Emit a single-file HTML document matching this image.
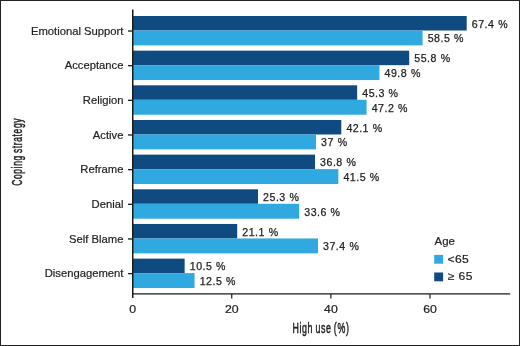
<!DOCTYPE html><html><head><meta charset="utf-8"><style>html,body{margin:0;padding:0;background:#fff}svg{display:block;will-change:transform}text{font-family:"Liberation Sans",sans-serif;fill:#222}.v{font-size:10.6px;letter-spacing:0.5px;word-spacing:0.3px;stroke:#222;stroke-width:0.25px}.c{font-size:11.8px;stroke:#222;stroke-width:0.2px}.t{font-size:15px;stroke:#222;stroke-width:0.5px;letter-spacing:1.1px;word-spacing:-1.5px}</style></head><body>
<svg width="520" height="346" viewBox="0 0 520 346">
<rect x="0" y="0" width="520" height="346" fill="#fff"/>
<rect x="132.60" y="16.00" width="334.10" height="14.50" fill="#0f4a81"/>
<rect x="132.60" y="30.50" width="289.98" height="14.90" fill="#30a8e0"/>
<text class="v" x="471.80" y="27.75">67.4 %</text>
<text class="v" x="427.68" y="42.30">58.5 %</text>
<text class="c" transform="translate(123.5,34.60) scale(0.955,1)" text-anchor="end">Emotional Support</text>
<line x1="128.0" y1="31.00" x2="132.6" y2="31.00" stroke="#1a1a1a" stroke-width="1.3"/>
<rect x="132.60" y="50.66" width="276.60" height="14.50" fill="#0f4a81"/>
<rect x="132.60" y="65.16" width="246.86" height="14.90" fill="#30a8e0"/>
<text class="v" x="414.30" y="62.41">55.8 %</text>
<text class="v" x="384.56" y="76.96">49.8 %</text>
<text class="c" transform="translate(123.5,69.26) scale(0.955,1)" text-anchor="end">Acceptance</text>
<line x1="128.0" y1="65.66" x2="132.6" y2="65.66" stroke="#1a1a1a" stroke-width="1.3"/>
<rect x="132.60" y="85.32" width="224.55" height="14.50" fill="#0f4a81"/>
<rect x="132.60" y="99.82" width="233.97" height="14.90" fill="#30a8e0"/>
<text class="v" x="362.25" y="97.07">45.3 %</text>
<text class="v" x="371.67" y="111.62">47.2 %</text>
<text class="c" transform="translate(123.5,103.92) scale(0.955,1)" text-anchor="end">Religion</text>
<line x1="128.0" y1="100.32" x2="132.6" y2="100.32" stroke="#1a1a1a" stroke-width="1.3"/>
<rect x="132.60" y="119.98" width="208.69" height="14.50" fill="#0f4a81"/>
<rect x="132.60" y="134.48" width="183.41" height="14.90" fill="#30a8e0"/>
<text class="v" x="346.39" y="131.73">42.1 %</text>
<text class="v" x="321.11" y="146.28">37 %</text>
<text class="c" transform="translate(123.5,138.58) scale(0.955,1)" text-anchor="end">Active</text>
<line x1="128.0" y1="134.98" x2="132.6" y2="134.98" stroke="#1a1a1a" stroke-width="1.3"/>
<rect x="132.60" y="154.64" width="182.42" height="14.50" fill="#0f4a81"/>
<rect x="132.60" y="169.14" width="205.72" height="14.90" fill="#30a8e0"/>
<text class="v" x="320.12" y="166.39">36.8 %</text>
<text class="v" x="343.42" y="180.94">41.5 %</text>
<text class="c" transform="translate(123.5,173.24) scale(0.955,1)" text-anchor="end">Reframe</text>
<line x1="128.0" y1="169.64" x2="132.6" y2="169.64" stroke="#1a1a1a" stroke-width="1.3"/>
<rect x="132.60" y="189.30" width="125.41" height="14.50" fill="#0f4a81"/>
<rect x="132.60" y="203.80" width="166.56" height="14.90" fill="#30a8e0"/>
<text class="v" x="263.11" y="201.05">25.3 %</text>
<text class="v" x="304.26" y="215.60">33.6 %</text>
<text class="c" transform="translate(123.5,207.90) scale(0.955,1)" text-anchor="end">Denial</text>
<line x1="128.0" y1="204.30" x2="132.6" y2="204.30" stroke="#1a1a1a" stroke-width="1.3"/>
<rect x="132.60" y="223.96" width="104.59" height="14.50" fill="#0f4a81"/>
<rect x="132.60" y="238.46" width="185.39" height="14.90" fill="#30a8e0"/>
<text class="v" x="242.29" y="235.71">21.1 %</text>
<text class="v" x="323.09" y="250.26">37.4 %</text>
<text class="c" transform="translate(123.5,242.56) scale(0.955,1)" text-anchor="end">Self Blame</text>
<line x1="128.0" y1="238.96" x2="132.6" y2="238.96" stroke="#1a1a1a" stroke-width="1.3"/>
<rect x="132.60" y="258.62" width="52.05" height="14.50" fill="#0f4a81"/>
<rect x="132.60" y="273.12" width="61.96" height="14.90" fill="#30a8e0"/>
<text class="v" x="189.75" y="270.37">10.5 %</text>
<text class="v" x="199.66" y="284.92">12.5 %</text>
<text class="c" transform="translate(123.5,277.22) scale(0.955,1)" text-anchor="end">Disengagement</text>
<line x1="128.0" y1="273.62" x2="132.6" y2="273.62" stroke="#1a1a1a" stroke-width="1.3"/>
<line x1="132.75" y1="9.6" x2="132.75" y2="298" stroke="#1a1a1a" stroke-width="1.5"/>
<line x1="132" y1="293.9" x2="510.2" y2="293.9" stroke="#1a1a1a" stroke-width="1.4"/>
<line x1="231.74" y1="293.9" x2="231.74" y2="298.4" stroke="#1a1a1a" stroke-width="1.2"/>
<line x1="330.88" y1="293.9" x2="330.88" y2="298.4" stroke="#1a1a1a" stroke-width="1.2"/>
<line x1="430.02" y1="293.9" x2="430.02" y2="298.4" stroke="#1a1a1a" stroke-width="1.2"/>
<text transform="translate(132.60,312.7) scale(1.12,1)" font-size="11" text-anchor="middle" stroke="#222" stroke-width="0.2">0</text>
<text transform="translate(231.74,312.7) scale(1.12,1)" font-size="11" text-anchor="middle" stroke="#222" stroke-width="0.2">20</text>
<text transform="translate(330.88,312.7) scale(1.12,1)" font-size="11" text-anchor="middle" stroke="#222" stroke-width="0.2">40</text>
<text transform="translate(430.02,312.7) scale(1.12,1)" font-size="11" text-anchor="middle" stroke="#222" stroke-width="0.2">60</text>
<text class="t" transform="translate(292.4,332.6) scale(0.59,1)">High use (%)</text>
<text class="t" transform="translate(22.4,185.8) rotate(-90) scale(0.566,1)">Coping strategy</text>
<text x="434.6" y="244.8" font-size="11.4" stroke="#222" stroke-width="0.2">Age</text>
<rect x="434.2" y="254.9" width="8.9" height="8.8" fill="#30a8e0"/>
<rect x="434.2" y="272.5" width="8.9" height="8.8" fill="#0f4a81"/>
<text transform="translate(447.6,262.9) scale(1.1,1)" font-size="11" letter-spacing="0.3" stroke="#222" stroke-width="0.2">&lt;65</text>
<text transform="translate(447.4,280.1) scale(1.1,1)" font-size="11" letter-spacing="0.3" word-spacing="0.5" stroke="#222" stroke-width="0.2">&#8805; 65</text>
<rect x="0.5" y="0.5" width="519" height="345" fill="none" stroke="#222" stroke-width="1"/>
</svg></body></html>
